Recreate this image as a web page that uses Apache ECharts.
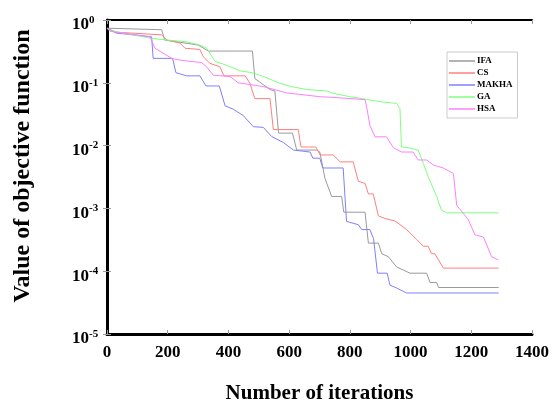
<!DOCTYPE html>
<html>
<head>
<meta charset="utf-8">
<script src="https://cdn.jsdelivr.net/npm/echarts@6/dist/echarts.min.js"></script>
<style>
  html, body { margin: 0; padding: 0; background: #fff; }
  #mainChart { width: 553px; height: 401px; }
</style>
</head>
<body>
<div id="mainChart"></div>
<script>
// convergence curves, [iteration, objective value]
var seriesNames = ['IFA', 'CS', 'MAKHA', 'GA', 'HSA'];
var seriesColors = ['#9a9a9a', '#ff7f7f', '#7f7fff', '#7fff7f', '#ff7fff'];

var ifaData = [[0, 0.74], [180, 0.70], [190, 0.48], [300, 0.40], [334, 0.32], [479, 0.32], [487, 0.117],
    [537, 0.078], [553, 0.074], [565, 0.0158], [611, 0.0158], [625, 0.0085], [691, 0.0085], [701, 0.0079],
    [718, 0.0030], [740, 0.00155], [773, 0.00155], [780, 0.00087], [850, 0.00087], [861, 0.00028],
    [894, 0.00028], [905, 0.00019], [927, 0.00017], [954, 0.000117], [998, 0.000093], [1053, 0.000093],
    [1064, 0.000066], [1086, 0.000066], [1092, 0.000055], [1290, 0.000055]];

var csData = [[0, 0.74], [30, 0.64], [180, 0.58], [197, 0.48], [240, 0.43], [257, 0.355], [306, 0.34],
    [317, 0.26], [339, 0.204], [372, 0.18], [385, 0.129], [455, 0.129], [471, 0.098], [487, 0.056],
    [537, 0.056], [548, 0.018], [630, 0.018], [639, 0.0095], [688, 0.0095], [702, 0.0071], [745, 0.0071],
    [768, 0.0055], [811, 0.0055], [828, 0.0027], [850, 0.0025], [861, 0.0017], [877, 0.0017], [894, 0.00076],
    [916, 0.00069], [949, 0.00063], [987, 0.00046], [1020, 0.00032], [1042, 0.00025], [1058, 0.00025],
    [1069, 0.00019], [1080, 0.00019], [1108, 0.000112], [1290, 0.000112]];

var makhaData = [[0, 0.74], [30, 0.62], [147, 0.54], [152, 0.245], [216, 0.245], [227, 0.145], [262, 0.129],
    [306, 0.129], [326, 0.089], [370, 0.089], [389, 0.043], [416, 0.038], [449, 0.030], [482, 0.020],
    [515, 0.0195], [542, 0.014], [581, 0.0112], [614, 0.0085], [669, 0.0079], [678, 0.0063], [701, 0.0063],
    [711, 0.0044], [778, 0.0044], [789, 0.00062], [828, 0.00055], [839, 0.00046], [866, 0.00046],
    [878, 0.00033], [891, 0.000093], [923, 0.000093], [932, 0.00006], [954, 0.000054], [987, 0.000045],
    [1290, 0.000045]];

var gaData = [[0, 0.74], [10, 0.68], [147, 0.51], [197, 0.48], [262, 0.45], [306, 0.40], [328, 0.355],
    [356, 0.22], [394, 0.19], [438, 0.155], [477, 0.145], [515, 0.126], [570, 0.098], [608, 0.087],
    [658, 0.078], [724, 0.074], [745, 0.068], [800, 0.060], [850, 0.055], [899, 0.050], [954, 0.047],
    [965, 0.039], [970, 0.0095], [992, 0.0093], [1025, 0.0085], [1042, 0.0052], [1058, 0.0032],
    [1086, 0.00155], [1102, 0.00093], [1119, 0.00085], [1290, 0.00085]];

var hsaData = [[0, 0.74], [10, 0.66], [142, 0.54], [158, 0.355], [213, 0.245], [240, 0.23], [273, 0.22],
    [312, 0.21], [328, 0.18], [350, 0.132], [405, 0.126], [432, 0.1], [515, 0.087], [592, 0.069],
    [702, 0.060], [734, 0.059], [850, 0.054], [855, 0.042], [866, 0.021], [883, 0.0138], [921, 0.0138],
    [943, 0.0093], [970, 0.0079], [1008, 0.0079], [1025, 0.0059], [1053, 0.0059], [1075, 0.0049],
    [1108, 0.0044], [1141, 0.0036], [1152, 0.00112], [1174, 0.00083], [1190, 0.00066], [1212, 0.00038],
    [1240, 0.00035], [1267, 0.00017], [1290, 0.00015]];

var allData = [ifaData, csData, makhaData, gaData, hsaData];

var xMin = 0, xMax = 1400, xStep = 200;
var yMin = 1e-5, yMax = 1;

var serif = '"Liberation Serif", "DejaVu Serif", serif';

var myChart = echarts.init(document.getElementById('mainChart'));

var tickStyle = { show: true, inside: true, length: 4, lineStyle: { color: '#999', width: 1 } };

var series = [];
for (var i = 0; i < seriesNames.length; i++) {
    series.push({
        name: seriesNames[i],
        type: 'line',
        data: allData[i],
        symbol: 'none',
        showSymbol: false,
        lineStyle: { color: seriesColors[i], width: 1 },
        itemStyle: { color: seriesColors[i] },
        z: 3
    });
}

myChart.setOption({
    animation: false,
    backgroundColor: '#fff',
    grid: {
        left: 107, right: 21, top: 20, bottom: 67,
        outerBoundsMode: 'none',
        containLabel: false
    },
    legend: {
        orient: 'vertical',
        left: 447, top: 52,
        data: seriesNames,
        icon: 'rect',
        itemWidth: 26, itemHeight: 1.5, itemGap: 2,
        padding: [4, 5, 4, 2],
        borderColor: '#ccc', borderWidth: 1,
        backgroundColor: '#fff',
        textStyle: { fontFamily: serif, fontWeight: 'bold', fontSize: 9, lineHeight: 10, color: '#000', padding: [0, 0, 0, -3] }
    },
    xAxis: [{
        type: 'value', min: xMin, max: xMax, interval: xStep,
        position: 'bottom',
        name: 'Number of iterations', nameLocation: 'middle', nameGap: 49,
        nameTextStyle: { fontFamily: serif, fontWeight: 'bold', fontSize: 21, color: '#000' },
        axisLine: { show: true, lineStyle: { color: '#000', width: 3 } },
        axisTick: tickStyle,
        splitLine: { show: false },
        axisLabel: {
            fontFamily: serif, fontWeight: 'bold', fontSize: 17, color: '#000', margin: 10,
            formatter: function (v) { return String(v); }
        }
    }, {
        type: 'value', min: xMin, max: xMax, interval: xStep,
        position: 'top',
        axisLine: { show: true, lineStyle: { color: '#000', width: 2 } },
        axisTick: tickStyle,
        axisLabel: { show: false },
        splitLine: { show: false }
    }],
    yAxis: [{
        type: 'log', logBase: 10, min: yMin, max: yMax,
        position: 'left',
        name: 'Value of objective function', nameLocation: 'middle', nameGap: 72,
        nameTextStyle: { fontFamily: serif, fontWeight: 'bold', fontSize: 24, color: '#000', padding: [0, 0, 0, 22] },
        axisLine: { show: true, lineStyle: { color: '#000', width: 3 } },
        axisTick: tickStyle,
        splitLine: { show: false },
        axisLabel: {
            margin: 35,
            align: 'left',
            formatter: function (v) {
                var e = Math.round(Math.log10(v));
                return '{b|10}{s|' + e + '}';
            },
            rich: {
                b: { fontFamily: serif, fontWeight: 'bold', fontSize: 17, lineHeight: 17, color: '#000', padding: [10, 0, 0, 0] },
                s: { fontFamily: serif, fontWeight: 'bold', fontSize: 11, lineHeight: 11, color: '#000' }
            }
        }
    }, {
        type: 'log', logBase: 10, min: yMin, max: yMax,
        position: 'right',
        axisLine: { show: true, lineStyle: { color: '#000', width: 2 } },
        axisTick: tickStyle,
        axisLabel: { show: false },
        splitLine: { show: false }
    }],
    series: series
});
</script>
</body>
</html>
